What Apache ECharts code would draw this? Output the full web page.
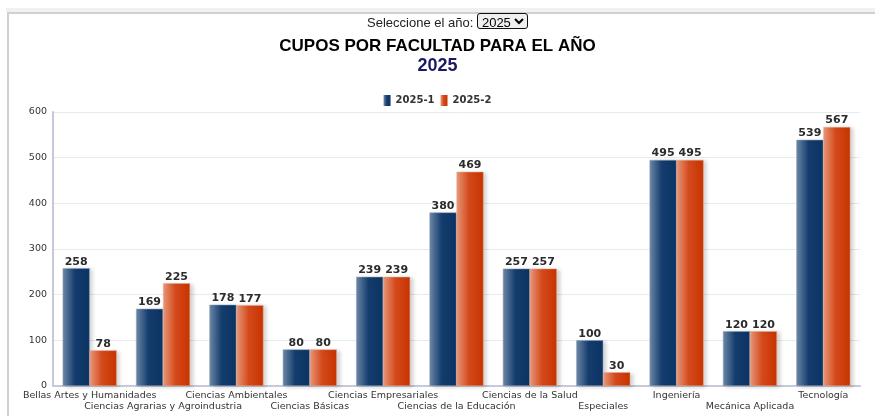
<!DOCTYPE html>
<html>
<head>
<meta charset="utf-8">
<script src="https://cdn.jsdelivr.net/npm/echarts@6/dist/echarts.min.js"></script>
<style>
	html,body{margin:0;padding:0;background:#fff;}
	#band{position:absolute;left:6px;top:8px;width:869px;height:4px;background:#f1f1f1;}
	#frame{position:absolute;left:7px;top:12px;width:868px;height:404px;border-left:2px solid #d0d0d0;border-top:2px solid #d0d0d0;box-sizing:border-box;}
	#sel{position:absolute;left:0;top:13px;width:895px;text-align:center;font-family:"Liberation Sans",Arial,sans-serif;font-size:13px;color:#222;z-index:2;}
	#sel select{font-family:"Liberation Sans",Arial,sans-serif;font-size:13px;border:1.5px solid #111;border-radius:3px;padding:0;height:16px;}
	#chart{position:absolute;left:0;top:0;width:875px;height:416px;}
</style>
</head>
<body>
<div id="band"></div>
<div id="frame"></div>
<div id="chart"></div>
<div id="sel">Seleccione el año: <select><option>2025</option></select></div>
<script>
var facultades = ['Bellas Artes y Humanidades','Ciencias Agrarias y Agroindustria','Ciencias Ambientales','Ciencias Básicas','Ciencias Empresariales','Ciencias de la Educación','Ciencias de la Salud','Especiales','Ingeniería','Mecánica Aplicada','Tecnología'];
var cupos1 = [258,169,178,80,239,380,257,100,495,120,539];
var cupos2 = [78,225,177,80,239,469,257,30,495,120,567];
var nombres = ['2025-1','2025-2'];

var cuposChart = echarts.init(document.getElementById('chart'));

function degradado(c1, c2, c3){
	return new echarts.graphic.LinearGradient(0,0,1,0,[
		{offset:0,color:c1},
		{offset:0.45,color:c2},
		{offset:1,color:c3}
	]);
}

var etiqueta = {
	show:true,
	position:'top',
	distance:1,
	color:'#2b2b2b',
	fontWeight:'bold',
	fontSize:11,
	fontFamily:'DejaVu Sans'
};

var option = {
	animation:false,
	title:{
		text:'CUPOS POR FACULTAD PARA EL AÑO',
		subtext:'2025',
		left:'center',
		top:33,
		itemGap:2,
		textStyle:{
			color:'#000',
			fontSize:17,
			fontWeight:'bold',
			fontFamily:'Liberation Sans'
		},
		subtextStyle:{
			color:'#1c1866',
			fontSize:18,
			fontWeight:'bold',
			fontFamily:'Liberation Sans'
		}
	},
	legend:{
		top:90,
		left:'center',
		itemWidth:7,
		itemHeight:11,
		itemGap:6,
		icon:'rect',
		itemStyle:{borderWidth:0},
		textStyle:{
			color:'#333',
			fontSize:10,
			fontWeight:'bold',
			fontFamily:'DejaVu Sans'
		},
		data:nombres
	},
	grid:{
		left:53,
		right:15,
		top:112,
		bottom:30
	},
	xAxis:[{
		type:'category',
		data:facultades,
		axisTick:{show:false},
		axisLine:{lineStyle:{color:'#c5c9d9',width:2}},
		axisLabel:{
			interval:0,
			color:'#333',
			fontSize:9.5,
			fontFamily:'DejaVu Sans',
			margin:4,
			lineHeight:11,
			formatter:function(v, i){
				return i % 2 ? '\n' + v : v;
			}
		}
	}],
	yAxis:[{
		type:'value',
		min:0,
		max:600,
		interval:100,
		axisLine:{show:true,lineStyle:{color:'#c5c9d9',width:2}},
		splitLine:{lineStyle:{color:'#e8eaf2'}},
		axisLabel:{
			color:'#333',
			fontSize:9.5,
			fontFamily:'DejaVu Sans',
			margin:6
		}
	}],
	series:[{
		name:nombres[0],
		type:'bar',
		barWidth:27,
		barGap:'0%',
		itemStyle:{
			color:degradado('#6f8aa9','#143d6e','#0b3463'),
			borderColor:'#8ea2bb',
			borderWidth:0.5,
			shadowColor:'rgba(0,0,0,0.18)',
			shadowBlur:4,
			shadowOffsetX:3,
			shadowOffsetY:1
		},
		label:etiqueta,
		data:cupos1
	},{
		name:nombres[1],
		type:'bar',
		barWidth:27,
		itemStyle:{
			color:degradado('#eb9a7c','#d44a1c','#c73300'),
			borderColor:'#e9a68c',
			borderWidth:0.5,
			shadowColor:'rgba(0,0,0,0.18)',
			shadowBlur:4,
			shadowOffsetX:3,
			shadowOffsetY:1
		},
		label:etiqueta,
		data:cupos2
	}]
};
cuposChart.setOption(option);
</script>
</body>
</html>
